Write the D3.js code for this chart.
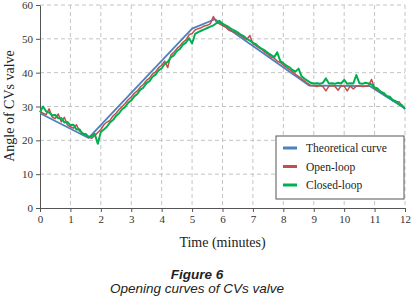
<!DOCTYPE html>
<html>
<head>
<meta charset="utf-8">
<script src="https://cdn.jsdelivr.net/npm/d3@7/dist/d3.min.js"></script>
<style>
  body { margin: 0; background: #fff; }
  svg { display: block; }
</style>
</head>
<body>
<svg id="chart" width="412" height="298"></svg>
<script>
// data (time step 0.1 min, 0..12)
var step = 0.1
var theoTimes = [0, 1.6, 5, 5.75, 8.85, 10.85, 12]
var theoValues = [28, 20.7, 53, 55.8, 36.2, 36.0, 29.4]
var openLoop = [28.6, 28.0, 27.6, 29.3, 26.9, 26.4, 27.8, 25.5, 26.8, 24.6,
  24.0, 23.6, 24.6, 22.7, 22.2, 21.6, 21.0, 20.6, 21.4, 22.3,
  23.2, 24.6, 25.4, 25.9, 27.2, 28.0, 29.1, 30.0, 30.9, 32.0,
  32.8, 33.9, 34.6, 35.8, 36.5, 37.7, 38.4, 39.6, 40.2, 41.5,
  42.2, 43.4, 41.5, 45.2, 46.0, 47.1, 47.9, 49.0, 49.7, 51.2,
  51.6, 52.6, 53.0, 53.3, 53.8, 54.0, 54.5, 56.6, 54.9, 54.4,
  53.9, 53.5, 52.6, 52.2, 52.0, 51.5, 51.0, 50.3, 49.8, 51.0,
  48.5, 48.0, 47.3, 46.8, 46.0, 45.4, 44.6, 44.3, 43.4, 43.0,
  42.2, 41.6, 40.9, 40.3, 39.5, 38.9, 38.2, 37.6, 36.8, 36.2,
  36.1, 35.9, 36.2, 35.9, 34.6, 36.0, 36.2, 35.9, 34.8, 36.1,
  36.0, 34.6, 36.1, 35.2, 36.0, 36.1, 35.9, 36.0, 36.1, 38.0,
  35.4, 34.8, 34.5, 33.6, 33.0, 32.6, 31.7, 31.5, 31.4, 30.2,
  29.3]
var closedLoop = [28.3, 30.0, 28.6, 28.2, 27.4, 27.5, 26.5, 26.6, 25.3, 25.4,
  24.5, 24.6, 23.2, 23.3, 21.8, 21.9, 21.0, 21.2, 21.9, 19.0,
  22.5, 23.2, 24.0, 25.3, 26.0, 27.2, 28.0, 29.2, 29.9, 31.1,
  31.8, 33.0, 33.7, 35.0, 35.6, 36.9, 37.5, 38.8, 39.4, 40.7,
  41.3, 42.6, 43.2, 44.5, 45.1, 46.4, 47.0, 48.3, 48.9, 50.2,
  48.6, 51.5, 52.0, 52.4, 52.8, 53.2, 53.6, 54.0, 54.6, 55.3,
  54.5, 54.0, 53.5, 52.9, 52.4, 51.9, 51.2, 50.8, 50.0, 49.5,
  48.8, 48.4, 47.6, 47.0, 46.5, 45.8, 45.2, 44.6, 46.0, 43.4,
  42.8, 42.1, 41.6, 40.8, 40.3, 41.2, 38.9, 38.2, 37.6, 37.0,
  36.8, 36.9, 36.7, 37.0, 38.3, 36.8, 36.9, 36.7, 37.0, 36.8,
  37.9, 36.7, 36.9, 36.8, 39.3, 36.9, 36.7, 37.0, 36.8, 36.5,
  35.6, 35.3, 34.3, 34.0, 33.1, 32.9, 31.9, 31.6, 30.7, 30.4,
  29.2]
var seriesNames = ["Theoretical curve", "Open-loop", "Closed-loop"]
var seriesColors = ["#4F81BD", "#C0504D", "#00B050"]
var xTicks = d3.range(0, 13)
var yTicks = [0, 10, 20, 30, 40, 50, 60]

var svg = d3.select("#chart")
var mLeft = 40, mRight = 405, mTop = 5, mBottom = 208

var x = d3.scaleLinear().domain([0, 12]).range([mLeft, mRight])
var y = d3.scaleLinear().domain([0, 60]).range([mBottom, mTop])

// grid
svg.append("g").selectAll("line")
  .data(xTicks.slice(1))
  .enter().append("line")
  .attr("x1", d => x(d)).attr("x2", d => x(d))
  .attr("y1", mTop).attr("y2", mBottom)
  .attr("stroke", "#c4c4c4").attr("stroke-dasharray", "4,3")
svg.append("g").selectAll("line")
  .data(yTicks.slice(1))
  .enter().append("line")
  .attr("x1", mLeft).attr("x2", mRight)
  .attr("y1", d => y(d)).attr("y2", d => y(d))
  .attr("stroke", "#c4c4c4").attr("stroke-dasharray", "4,3")

// axes
svg.append("g")
  .attr("transform", "translate(0," + mBottom + ")")
  .call(d3.axisBottom(x).tickValues(xTicks).tickSize(4).tickSizeOuter(0))
svg.append("g")
  .attr("transform", "translate(" + mLeft + ",0)")
  .call(d3.axisLeft(y).tickValues(yTicks).tickSize(4).tickSizeOuter(0))
svg.selectAll(".tick text")
  .style("font-family", "'Liberation Serif', 'Times New Roman', serif")
  .style("font-size", "11px")
  .attr("fill", "#333")
svg.selectAll(".domain, .tick line").attr("stroke", "#555")

// lines
var times = openLoop.map((d, i) => +(i * step).toFixed(2))
var line = d3.line().x(d => x(d[0])).y(d => y(d[1]))
var lineData = [
  d3.zip(theoTimes, theoValues),
  d3.zip(times, openLoop),
  d3.zip(times, closedLoop)
]
var widths = [1.8, 1.5, 2]
lineData.forEach(function(d, i) {
  svg.append("path")
    .datum(d)
    .attr("d", line)
    .attr("fill", "none")
    .attr("stroke", seriesColors[i])
    .attr("stroke-width", widths[i])
    .attr("stroke-linejoin", "round")
})

// legend
var lg = svg.append("g").attr("transform", "translate(276,136)")
lg.append("rect")
  .attr("width", 128).attr("height", 63)
  .attr("fill", "#fff").attr("stroke", "#555")
seriesNames.forEach(function(n, i) {
  var cy = 12 + i * 18.5
  lg.append("line")
    .attr("x1", 7).attr("x2", 21).attr("y1", cy).attr("y2", cy)
    .attr("stroke", seriesColors[i]).attr("stroke-width", 3)
  lg.append("text")
    .attr("x", 30).attr("y", cy + 4)
    .text(n)
    .style("font-family", "'Liberation Serif', serif")
    .style("font-size", "11.5px")
    .attr("fill", "#222")
})

// titles
svg.append("text")
  .attr("x", (mLeft + mRight) / 2).attr("y", 247)
  .attr("text-anchor", "middle")
  .style("font-family", "'Liberation Serif', serif")
  .style("font-size", "14px")
  .attr("fill", "#222")
  .text("Time (minutes)")
svg.append("text")
  .attr("transform", "translate(14,106) rotate(-90)")
  .attr("text-anchor", "middle")
  .style("font-family", "'Liberation Serif', serif")
  .style("font-size", "14px")
  .attr("fill", "#222")
  .text("Angle of CVs valve")

// caption
svg.append("text")
  .attr("x", 197).attr("y", 279)
  .attr("text-anchor", "middle")
  .style("font-family", "'Liberation Sans', Arial, sans-serif")
  .style("font-size", "13.5px")
  .style("font-weight", "bold")
  .style("font-style", "italic")
  .attr("fill", "#222")
  .text("Figure 6")
svg.append("text")
  .attr("x", 197).attr("y", 293)
  .attr("text-anchor", "middle")
  .style("font-family", "'Liberation Sans', Arial, sans-serif")
  .style("font-size", "13.5px")
  .style("font-style", "italic")
  .attr("fill", "#222")
  .text("Opening curves of CVs valve")
</script>
</body>
</html>
